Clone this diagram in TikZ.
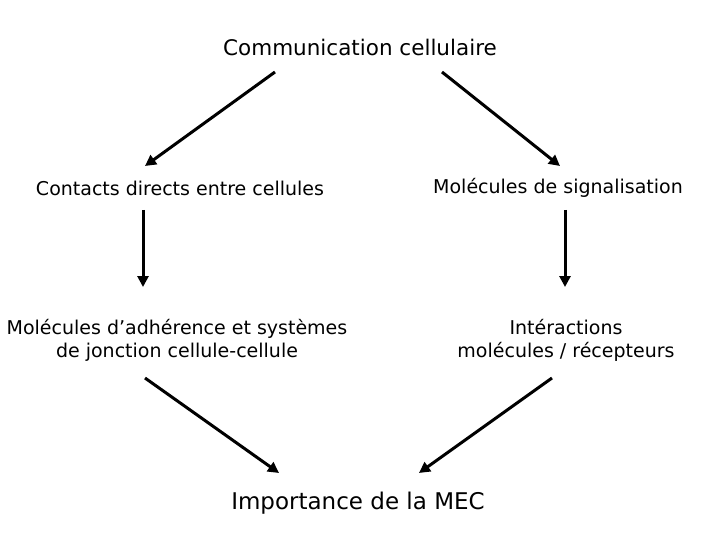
\documentclass[tikz,border=0pt]{standalone}
\usepackage{fontspec}
\setmainfont{DejaVu Sans}
\usetikzlibrary{arrows.meta}
\begin{document}
\begin{tikzpicture}[x=1pt,y=-1pt,
  lbl/.style={font=\fontsize{19}{23}\selectfont,align=center,inner sep=0pt},
  arr/.style={line width=3pt,-{Triangle[length=11pt,width=11pt]}}]
\useasboundingbox (0,0) rectangle (720,540);
\node[lbl,font=\fontsize{21.5}{25}\selectfont] (top) at (360,47) {Communication cellulaire};
\node[lbl] (l1) at (180,188) {Contacts directs entre cellules};
\node[lbl] (r1) at (558,188) {Molécules de signalisation};
\node[lbl] (l2) at (177,340) {Molécules d’adhérence et systèmes\\de jonction cellule-cellule};
\node[lbl] (r2) at (566,340) {Intéractions\\molécules / récepteurs};
\node[lbl,font=\fontsize{23}{27}\selectfont] (bot) at (358,503) {Importance de la MEC};
\coordinate (a1) at (275,72); \coordinate (a2) at (145,166);
\coordinate (b1) at (442,72); \coordinate (b2) at (560,166);
\coordinate (c1) at (143,210); \coordinate (c2) at (143,287);
\coordinate (d1) at (565,210); \coordinate (d2) at (565,287);
\coordinate (e1) at (145,378); \coordinate (e2) at (279,473);
\coordinate (f1) at (552,378); \coordinate (f2) at (419,473);
\draw[arr] (a1) -- (a2);
\draw[arr] (b1) -- (b2);
\draw[arr] (c1) -- (c2);
\draw[arr] (d1) -- (d2);
\draw[arr] (e1) -- (e2);
\draw[arr] (f1) -- (f2);
\end{tikzpicture}
\end{document}
